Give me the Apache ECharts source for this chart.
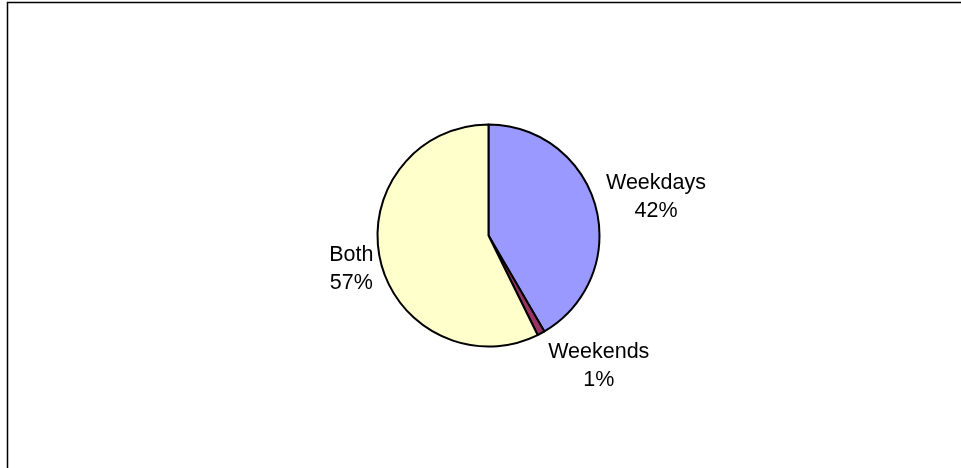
<!DOCTYPE html>
<html>
<head>
<meta charset="utf-8">
<script src="https://cdn.jsdelivr.net/npm/echarts@6/dist/echarts.min.js"></script>
<style>
html,body{margin:0;padding:0;background:#fff;}
#chart{width:961px;height:468px;}
</style>
</head>
<body>
<div id="chart"></div>
<script>
// Data
var categories = ['Weekdays', 'Weekends', 'Both'];
var values = [41.6, 1.1, 57.3];

// Styles / layout (not data)
var colors = ['#9999FF', '#993366', '#FFFFCC'];
var CX = 488.5, CY = 235.5, R = 111;
var labelGap = [12.5, 10, 7.7];
var labelNudge = [[0, 1], [29, -1], [0, 0]];

var total = values.reduce(function (a, b) { return a + b; }, 0);
var midAngles = [];
(function () {
  var acc = 0;
  for (var i = 0; i < values.length; i++) {
    var frac = values[i] / total;
    midAngles.push((acc + frac / 2) * 2 * Math.PI);
    acc += frac;
  }
})();

var chart = echarts.init(document.getElementById('chart'), null, { renderer: 'canvas' });
chart.setOption({
  backgroundColor: '#ffffff',
  animation: false,
  graphic: [{
    type: 'rect',
    silent: true,
    z: 100,
    shape: { x: 7.5, y: 2.5, width: 2000, height: 2000 },
    style: { fill: 'none', stroke: '#000', lineWidth: 1.5 }
  }],
  series: [{
    type: 'pie',
    center: [CX, CY],
    radius: [0, R],
    startAngle: 90,
    clockwise: true,
    percentPrecision: 0,
    avoidLabelOverlap: false,
    data: categories.map(function (c, i) {
      return { name: c, value: values[i], itemStyle: { color: colors[i] } };
    }),
    itemStyle: { borderColor: '#000', borderWidth: 2 },
    label: {
      show: true,
      position: 'outside',
      formatter: '{b}\n{d}%',
      fontFamily: 'Liberation Sans, Arial, sans-serif',
      fontSize: 21.5,
      lineHeight: 28,
      color: '#000',
      align: 'center'
    },
    labelLine: { show: false, length: 0, length2: 0 },
    emphasis: { disabled: true },
    labelLayout: function (params) {
      var i = params.dataIndex;
      var a = midAngles[i];
      var ux = Math.sin(a), uy = -Math.cos(a);
      var d = R + labelGap[i];
      var w = params.labelRect.width, h = params.labelRect.height;
      return {
        x: CX + d * ux + (w / 2) * ux + labelNudge[i][0],
        y: CY + d * uy + (h / 2) * uy + labelNudge[i][1],
        align: 'center',
        verticalAlign: 'middle'
      };
    }
  }]
});
</script>
</body>
</html>
